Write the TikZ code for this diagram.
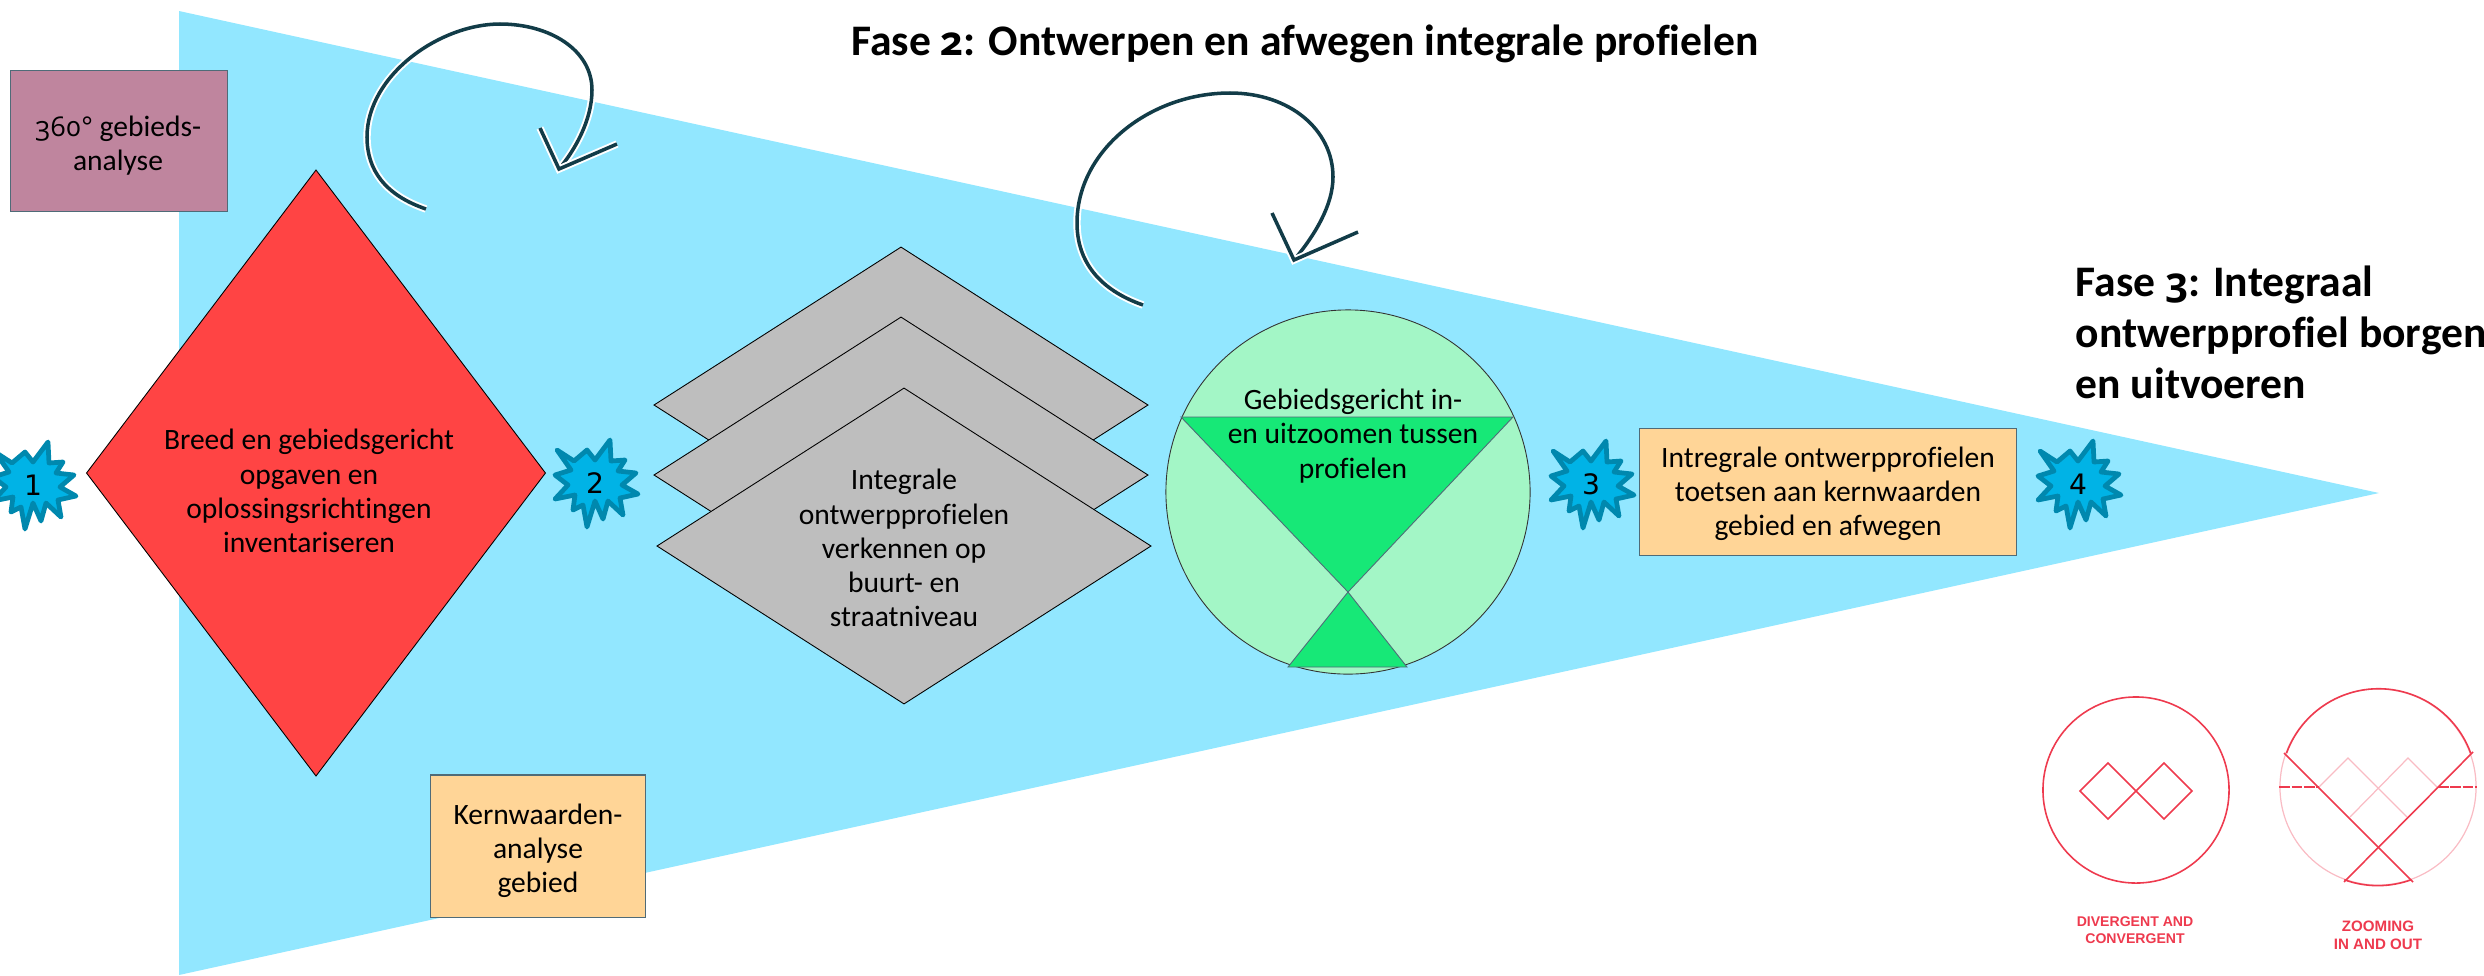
\documentclass[tikz,border=0pt]{standalone}
\usepackage{fontspec}
\setmainfont{Carlito}[Ligatures=NoCommon]
\newfontfamily\digitfont{DejaVu Sans}
\newfontfamily\iconfont{Liberation Sans}
\newfontfamily\oldnum{Open Sans}[Numbers=OldStyle,Scale=0.92]
\usetikzlibrary{shapes.geometric}
\definecolor{funnelblue}{HTML}{92E7FF}
\definecolor{redbox}{HTML}{FF4444}
\definecolor{greybox}{HTML}{BEBEBE}
\definecolor{mauvebox}{HTML}{BF859E}
\definecolor{sandbox}{HTML}{FFD597}
\definecolor{palegreen}{HTML}{A3F6C6}
\definecolor{deepgreen}{HTML}{17E877}
\definecolor{burstfill}{HTML}{00B3E6}
\definecolor{burstline}{HTML}{0088AE}
\definecolor{loopline}{HTML}{123C48}
\definecolor{iconred}{HTML}{EE3A4E}
\definecolor{iconpale}{HTML}{F9BCC4}
\definecolor{edgegrey}{HTML}{4F6B78}
\tikzset{
	bodytext/.style={align=center, inner sep=0pt, font=\fontsize{8.4}{9.7}\selectfont},
	notebox/.style={draw=edgegrey, line width=0.3pt, inner sep=0pt},
	diamondbox/.style={diamond, draw=black, line width=0.25pt, inner sep=0pt},
	titletext/.style={inner sep=0pt, font=\fontsize{12.4}{14.5}\selectfont\bfseries},
	loopstroke/.style={draw=loopline, line width=1pt, preaction={draw=white, line width=2.1pt}},
	iconstrong/.style={draw=iconred, line width=0.45pt},
	iconfaint/.style={draw=iconpale, line width=0.35pt},
	icontext/.style={align=center, inner sep=0pt, text=iconred},
	burst/.pic={
		\draw[fill=burstfill, draw=burstline, line width=1.35pt, line join=round]
			(-38,-33) -- (-21,-22) -- (-8,-33) -- (0,-23) -- (15,-43) -- (16,-22) -- (30,-23) -- (23,-12)
			-- (41,-10) -- (27,2) -- (43,11) -- (25,15) -- (28,32) -- (13,18) -- (8,36) -- (0,18)
			-- (-8,44) -- (-12,22) -- (-22,27) -- (-20,12) -- (-40,16) -- (-27,2) -- (-40,-8) -- (-24,-13) -- cycle;
		\node[inner sep=0pt, font=\digitfont\fontsize{8}{9}\selectfont] (-num) at (0,0) {#1};
	},
}

\begin{document}
\begin{tikzpicture}[x=0.01cm, y=-0.01cm]
	\useasboundingbox (0,0) rectangle (2484,975);
	
	\fill[funnelblue] (179,11) -- (2379,493) -- (179,975) -- cycle;
	
	\node[notebox, fill=mauvebox, minimum width=2.16cm, minimum height=1.41cm] (gebiedsanalyse) at (119,141) {};
	\node[bodytext] (gebiedstext) at (118,146) {{\oldnum 360°} gebieds-\\analyse};
	\node[notebox, fill=sandbox, minimum width=2.15cm, minimum height=1.42cm] (kernwaarden) at (538,846) {};
	\node[bodytext] (kernwaardentext) at (538,851) {Kernwaarden-\\analyse\\gebied};
	\node[notebox, fill=sandbox, minimum width=3.77cm, minimum height=1.27cm] (toetsen) at (1828,492) {};
	\node[bodytext] (toetsentext) at (1828,494) {Intregrale ontwerpprofielen\\toetsen aan kernwaarden\\gebied en afwegen};
	
	\node[diamondbox, fill=redbox, minimum width=4.59cm, minimum height=6.06cm] (breed) at (316,473) {};
	\node[bodytext] (breedtext) at (309,491) {Breed en gebiedsgericht\\opgaven en\\oplossingsrichtingen\\inventariseren};
	
	\node[diamondbox, fill=greybox, minimum width=4.94cm, minimum height=3.16cm] (profielc) at (901,405) {};
	\node[diamondbox, fill=greybox, minimum width=4.94cm, minimum height=3.16cm] (profielb) at (901,475) {};
	\node[diamondbox, fill=greybox, minimum width=4.94cm, minimum height=3.16cm] (profiela) at (904,546) {};
	\node[bodytext] (profieltext) at (904,548) {Integrale\\ontwerpprofielen\\verkennen op\\buurt- en\\straatniveau};
	
	\node[circle, draw=black!80, fill=palegreen, line width=0.25pt, minimum size=3.64cm, inner sep=0pt] (zoomcircle) at (1348,492) {};
	\draw[draw=edgegrey, fill=deepgreen, line width=0.25pt] (1181,417) -- (1513,417) -- (1348,592) -- cycle;
	\draw[draw=edgegrey, fill=deepgreen, line width=0.25pt] (1348,592) -- (1407,667) -- (1288,667) -- cycle;
	\node[bodytext] (zoomtext) at (1353,436) {Gebiedsgericht in-\\en uitzoomen tussen\\profielen};
	
	\pic (burstone) at (33,485) {burst=1};
	\pic (bursttwo) at (595,483) {burst=2};
	\pic (burstthree) at (1591,484) {burst=3};
	\pic (burstfour) at (2078,484) {burst=4};
	
	\coordinate (loopastart) at (426,209);
	\coordinate (loopatip) at (559,169);
	\coordinate (loopabarbl) at (540,128);
	\coordinate (loopabarbr) at (617,144);
	\draw[loopstroke] (loopastart) .. controls (385,195) and (367,170) .. (367,137) .. controls (367,75) and (440,24) .. (500,24) .. controls (550,24) and (592,50) .. (592,90) .. controls (592,120) and (575,150) .. (loopatip);
	\draw[loopstroke] (loopabarbl) -- (loopatip) -- (loopabarbr);
	
	\coordinate (loopbstart) at (1143,305);
	\coordinate (loopbtip) at (1294,260);
	\coordinate (loopbbarbl) at (1272,213);
	\coordinate (loopbbarbr) at (1358,232);
	\draw[loopstroke] (loopbstart) .. controls (1100,290) and (1077,262) .. (1077,223) .. controls (1077,150) and (1150,93) .. (1230,93) .. controls (1290,93) and (1333,130) .. (1333,177) .. controls (1333,205) and (1315,235) .. (loopbtip);
	\draw[loopstroke] (loopbbarbl) -- (loopbtip) -- (loopbbarbr);
	
	\node[titletext] (fasetwee) at (1305,44) {Fase {\oldnum 2}: Ontwerpen en afwegen integrale profielen};
	\node[titletext, anchor=west, align=left] (fasedrie) at (2075,332) {Fase {\oldnum 3}: Integraal\\ontwerpprofiel borgen\\en uitvoeren};
	
	% divergent icon
	\node[circle, iconstrong, minimum size=1.86cm, inner sep=0pt] (divcircle) at (2136,790) {};
	\draw[iconstrong] (2080,791) -- (2108,763) -- (2164,819) -- (2192,791) -- (2164,763) -- (2108,819) -- cycle;
	\foreach \x/\y in {2093/777, 2121/776, 2150/777, 2177/776, 2094/806, 2123/804, 2149/805, 2177/805}
		\fill[iconred] (\x,\y) circle (0.015);
	\node[icontext, font=\iconfont\bfseries\fontsize{4}{4.8}\selectfont] (divtext) at (2135,930) {DIVERGENT AND\\CONVERGENT};
	
	% zoom icon
	\node[circle, iconfaint, minimum size=1.96cm, inner sep=0pt] (zoomicon) at (2378,787) {};
	\draw[iconfaint] (2319,787) -- (2348,758) -- (2407,817);
	\draw[iconfaint] (2437,787) -- (2408,758) -- (2350,817);
	\draw[iconstrong, dash pattern=on 3pt off 0.5pt] (zoomicon.west) -- (2319,787);
	\draw[iconstrong, dash pattern=on 3pt off 0.5pt] (2438,787) -- (zoomicon.east);
	\draw[iconstrong] (2284,753) -- (2413,882);
	\draw[iconstrong] (2473,752) -- (2344,882);
	\draw[iconstrong] (zoomicon.20) arc[start angle=20, end angle=160, radius=0.98cm];
	\draw[iconstrong] (zoomicon.250) arc[start angle=250, end angle=290, radius=0.98cm];
	\node[icontext, font=\iconfont\bfseries\fontsize{4.3}{5.1}\selectfont] (zoomlabel) at (2378,935) {ZOOMING\\IN AND OUT};
\end{tikzpicture}
\end{document}
